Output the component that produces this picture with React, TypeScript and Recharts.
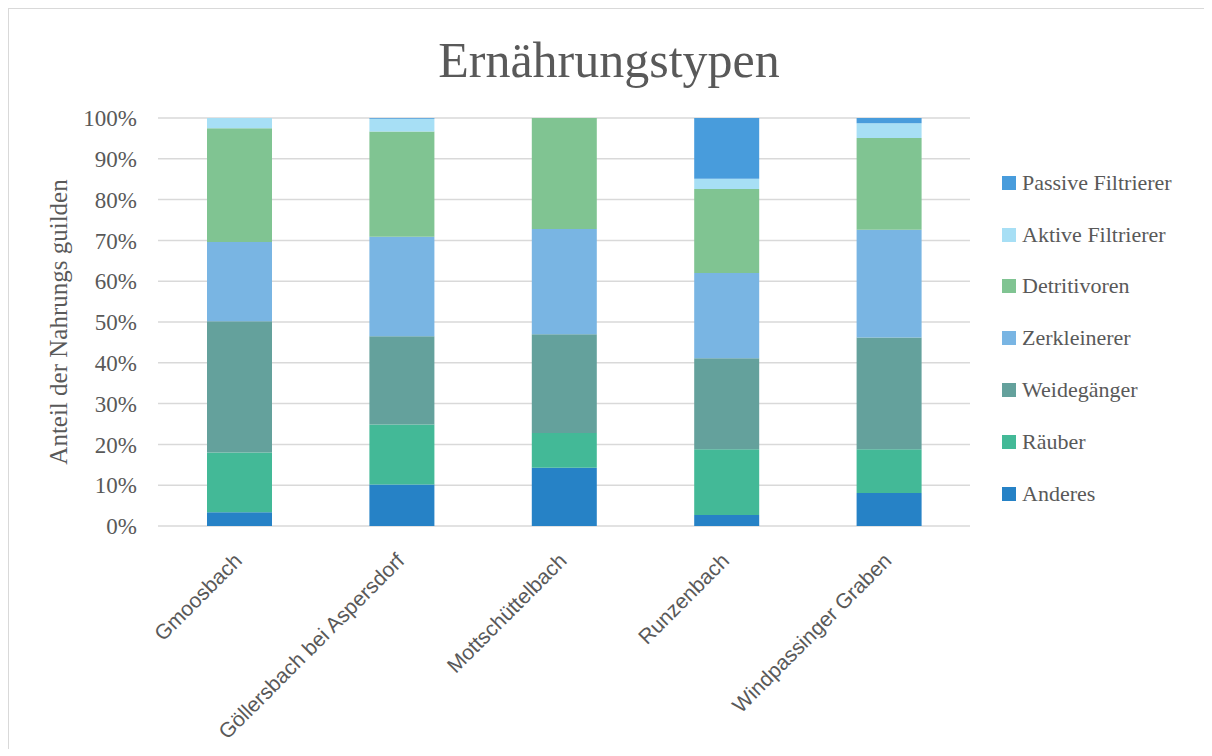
import { BarChart, Bar, XAxis, YAxis, CartesianGrid } from 'recharts'

const streams = ['Gmoosbach', 'Göllersbach bei Aspersdorf', 'Mottschüttelbach', 'Runzenbach', 'Windpassinger Graben']

// percent shares, bottom to top of each stack
const anderes = [3.4, 10.2, 14.3, 2.7, 8.1]
const raeuber = [14.6, 14.7, 8.5, 16.1, 10.7]
const weidegaenger = [32.2, 21.6, 24.2, 22.3, 27.4]
const zerkleinerer = [19.4, 24.4, 25.8, 20.9, 26.4]
const detritivoren = [27.9, 25.8, 27.2, 20.6, 22.5]
const aktiveFiltrierer = [2.5, 3.1, 0, 2.5, 3.6]
const passiveFiltrierer = [0, 0.2, 0, 14.9, 1.3]

const yTicks = [0, 10, 20, 30, 40, 50, 60, 70, 80, 90, 100]

const series = [
  { key: 'anderes', name: 'Anderes', color: '#2682c6', values: anderes },
  { key: 'raeuber', name: 'Räuber', color: '#43b997', values: raeuber },
  { key: 'weide', name: 'Weidegänger', color: '#64a19c', values: weidegaenger },
  { key: 'zerkl', name: 'Zerkleinerer', color: '#79b5e3', values: zerkleinerer },
  { key: 'detrit', name: 'Detritivoren', color: '#80c492', values: detritivoren },
  { key: 'aktiv', name: 'Aktive Filtrierer', color: '#a7dff5', values: aktiveFiltrierer },
  { key: 'passiv', name: 'Passive Filtrierer', color: '#489cdc', values: passiveFiltrierer },
]

const data = streams.map((s, i) => {
  const row: Record<string, string | number> = { stream: s }
  series.forEach((se) => {
    row[se.key] = se.values[i]
  })
  return row
})

const serif = '"Liberation Serif", "Times New Roman", serif'
const sans = '"Liberation Sans", Arial, sans-serif'
const textColor = '#595959'

function StreamTick(props: any) {
  const { x, y, payload } = props
  const ax = x + 4
  const ay = y + 28
  return (
    <text
      x={ax}
      y={ay}
      transform={`rotate(-45, ${ax}, ${ay})`}
      textAnchor="end"
      fill={textColor}
      fontFamily={sans}
      fontSize={21}
    >
      {payload.value}
    </text>
  )
}

function AxisLabel(props: any) {
  const { viewBox } = props
  const cx = viewBox.x + 58
  const cy = viewBox.y + viewBox.height / 2
  return (
    <text
      x={cx}
      y={cy}
      transform={`rotate(-90, ${cx}, ${cy})`}
      textAnchor="middle"
      fill={textColor}
      fontFamily={serif}
      fontSize={25}
    >
      Anteil der Nahrungs guilden
    </text>
  )
}

export default function App() {
  return (
    <div
      style={{
        position: 'relative',
        width: 1196,
        height: 740,
        borderTop: '1px solid #d9d9d9',
        borderLeft: '1px solid #d9d9d9',
        background: '#fff',
      }}
    >
      <div
        style={{
          position: 'absolute',
          left: 0,
          width: 1200,
          top: 22,
          textAlign: 'center',
          fontFamily: serif,
          fontSize: 50,
          color: textColor,
        }}
      >
        Ernährungstypen
      </div>
      <BarChart
        width={1195}
        height={739}
        data={data}
        margin={{ top: 109, right: 234, bottom: 122, left: 0 }}
        barSize={65}
      >
        <CartesianGrid vertical={false} stroke="#d9d9d9" strokeWidth={1.5} />
        <XAxis
          dataKey="stream"
          axisLine={false}
          tickLine={false}
          interval={0}
          height={100}
          tick={<StreamTick />}
        />
        <YAxis
          width={149}
          domain={[0, 100]}
          ticks={yTicks}
          axisLine={false}
          tickLine={false}
          tickMargin={15}
          tickFormatter={(v: number) => `${v}%`}
          tick={{ fill: textColor, fontFamily: serif, fontSize: 23 }}
          label={<AxisLabel />}
        />
        {series.map((se) => (
          <Bar
            key={se.key}
            dataKey={se.key}
            name={se.name}
            stackId="a"
            fill={se.color}
            isAnimationActive={false}
          />
        ))}
      </BarChart>
      <div style={{ position: 'absolute', left: 993, top: 148 }}>
        {[...series].reverse().map((se) => (
          <div
            key={se.key}
            style={{
              display: 'flex',
              alignItems: 'center',
              height: 51.8,
              fontFamily: serif,
              fontSize: 22,
              color: textColor,
            }}
          >
            <span style={{ display: 'inline-block', width: 14, height: 14, background: se.color, marginRight: 6 }} />
            {se.name}
          </div>
        ))}
      </div>
    </div>
  )
}
